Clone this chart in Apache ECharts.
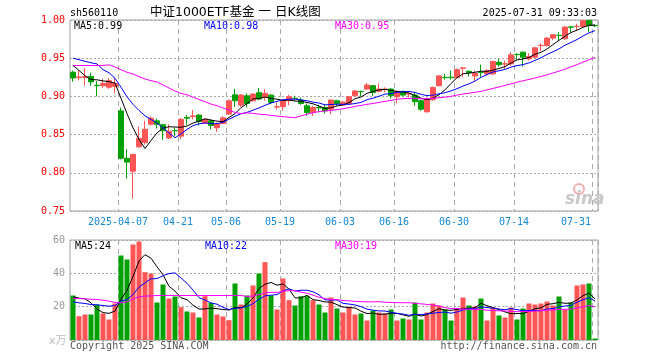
<!DOCTYPE html>
<html><head><meta charset="utf-8">
<script src="https://cdn.jsdelivr.net/npm/echarts@6/dist/echarts.min.js"></script>
<style>html,body{margin:0;padding:0;background:#fff}#c{width:660px;height:360px}</style>
</head><body><div id="c"></div>
<script>
const dates = ['2025-03-25','2025-03-26','2025-03-27','2025-03-28','2025-03-31',
'2025-04-01','2025-04-02','2025-04-03','2025-04-07','2025-04-08','2025-04-09','2025-04-10','2025-04-11',
'2025-04-14','2025-04-15','2025-04-16','2025-04-17','2025-04-18','2025-04-21','2025-04-22','2025-04-23','2025-04-24','2025-04-25',
'2025-04-28','2025-04-29','2025-04-30','2025-05-06','2025-05-07','2025-05-08','2025-05-09',
'2025-05-12','2025-05-13','2025-05-14','2025-05-15','2025-05-16','2025-05-19','2025-05-20','2025-05-21','2025-05-22','2025-05-23',
'2025-05-26','2025-05-27','2025-05-28','2025-05-29','2025-05-30','2025-06-03','2025-06-04','2025-06-05','2025-06-06',
'2025-06-09','2025-06-10','2025-06-11','2025-06-12','2025-06-13','2025-06-16','2025-06-17','2025-06-18','2025-06-19','2025-06-20',
'2025-06-23','2025-06-24','2025-06-25','2025-06-26','2025-06-27','2025-06-30','2025-07-01','2025-07-02','2025-07-03','2025-07-04',
'2025-07-07','2025-07-08','2025-07-09','2025-07-10','2025-07-11','2025-07-14','2025-07-15','2025-07-16','2025-07-17','2025-07-18',
'2025-07-21','2025-07-22','2025-07-23','2025-07-24','2025-07-25','2025-07-28','2025-07-29','2025-07-30','2025-07-31'];

const opens = [0.9316,0.9245,0.925,0.926,0.9145,0.914,0.912,0.913,0.881,0.819,
0.802,0.834,0.8395,0.8636,0.868,0.863,0.8456,0.8555,0.848,0.8725,
0.8735,0.8755,0.865,0.868,0.859,0.8644,0.877,0.902,0.8886,0.9008,
0.8943,0.9048,0.8995,0.9017,0.886,0.8864,0.8943,0.8975,0.8952,0.8877,
0.8789,0.8855,0.8855,0.8833,0.8943,0.8886,0.8908,0.9008,0.9065,0.9096,
0.914,0.9066,0.9092,0.9096,0.8995,0.9066,0.903,0.9017,0.8943,0.8798,
0.8956,0.914,0.925,0.9252,0.9245,0.937,0.9329,0.9267,0.9317,0.9294,
0.9294,0.9447,0.9423,0.9425,0.955,0.9579,0.9491,0.9513,0.9664,0.9666,
0.9763,0.98,0.9754,0.991,0.9914,0.9916,0.9995,0.9929];
const closes = [0.9241,0.9255,0.926,0.919,0.914,0.917,0.9205,0.917,0.819,0.814,
0.824,0.845,0.857,0.8715,0.8636,0.855,0.8545,0.855,0.870,0.8715,
0.8745,0.867,0.870,0.862,0.8644,0.872,0.8943,0.8943,0.9017,0.8907,
0.903,0.8965,0.904,0.8921,0.8865,0.8943,0.8995,0.897,0.8907,0.8789,
0.8855,0.885,0.881,0.8952,0.8908,0.8925,0.8995,0.907,0.9061,0.9149,
0.9052,0.9096,0.9096,0.9008,0.9066,0.9017,0.9035,0.893,0.8833,0.8965,
0.9118,0.9268,0.9245,0.9245,0.935,0.9373,0.9311,0.9302,0.9313,0.9337,
0.9456,0.9416,0.9427,0.9544,0.9546,0.9513,0.9522,0.9636,0.9668,0.9763,
0.9807,0.9796,0.9908,0.9906,0.9918,0.999,0.9929,0.9925];
const lows = [0.9193,0.921,0.914,0.914,0.900,0.911,0.910,0.904,0.8175,0.7925,
0.766,0.833,0.837,0.862,0.858,0.843,0.844,0.848,0.844,0.863,
0.870,0.862,0.8645,0.857,0.8535,0.8637,0.876,0.8865,0.886,0.8855,
0.893,0.895,0.8943,0.890,0.883,0.881,0.8885,0.8943,0.889,0.8745,
0.8745,0.879,0.8776,0.8767,0.8877,0.8877,0.8899,0.8999,0.900,0.9088,
0.9008,0.9052,0.9052,0.8973,0.8908,0.900,0.8986,0.8877,0.8811,0.8789,
0.8943,0.9131,0.9219,0.9219,0.924,0.925,0.9258,0.9206,0.925,0.9272,
0.9285,0.939,0.9359,0.9403,0.9478,0.939,0.9469,0.9504,0.9592,0.9653,
0.9736,0.9723,0.9741,0.9842,0.9864,0.9908,0.9842,0.9908];
const highs = [0.9338,0.934,0.937,0.931,0.920,0.923,0.924,0.924,0.8855,0.831,
0.825,0.8605,0.868,0.8737,0.871,0.864,0.8636,0.859,0.8715,0.8755,
0.882,0.8767,0.871,0.870,0.866,0.874,0.896,0.910,0.903,0.904,
0.904,0.911,0.9096,0.903,0.892,0.895,0.902,0.9008,0.8986,0.8908,
0.8877,0.8886,0.8899,0.896,0.8956,0.8943,0.9008,0.9083,0.9075,0.9175,
0.915,0.917,0.9118,0.911,0.9075,0.9075,0.9052,0.9052,0.8956,0.8986,
0.9127,0.928,0.9294,0.9338,0.9365,0.9375,0.9337,0.9337,0.9416,0.9359,
0.9469,0.9491,0.9469,0.9579,0.9565,0.9587,0.9565,0.9644,0.9697,0.9776,
0.9811,0.9842,0.9916,0.9921,0.9951,1.000,1.000,0.994];
const volumes = [26.7,14.3,15.3,15.3,21.3,15.9,12.3,21.9,50.7,48.3,
57.3,59.1,40.7,39.9,22.5,33.3,24.9,26.1,19.7,17.1,
16.5,13.5,26.3,22.3,15.3,14.1,11.9,33.9,21.3,26.7,
32.7,39.9,46.7,26.7,18.3,36.9,23.9,20.7,26.3,26.3,
23.9,21.3,16.5,25.5,18.9,16.5,19.9,15.3,15.9,11.7,
17.7,16.5,15.9,18.3,11.7,12.9,12.3,22.5,12.3,16.5,
21.9,20.7,18.3,11.7,18.9,25.5,20.7,20.1,24.9,11.7,
19.5,14.7,13.5,19.5,12.3,18.9,21.9,21.3,21.9,23.1,
20.7,26.1,18.3,22.5,32.7,33.3,33.9,0.9];

// moving-average values before a full window exists
const ma5Head = [0.9405,0.934,0.927,0.922];
const ma10Head = [0.950,0.948,0.946,0.944,0.9425,0.935,0.931,0.9237,0.912];
const ma30Head = [0.9404,0.9404,0.9404,0.9404,0.9404,0.9406,0.9413,0.9385,0.935,0.9316,
0.9294,0.9259,0.9228,0.9206,0.919,0.915,0.911,0.907,0.904,0.902,
0.899,0.896,0.893,0.890,0.8877,0.885,0.882,0.879,0.8775];
const vma5Head = [25.9,25.1,24.7,22.3];
const vma10Head = [22.9,22.3,21.9,21.3,21.1,20.7,20.3,20.7,23.3];
const vma30Head = [24.9,24.9,24.7,24.5,24.3,23.9,23.3,22.5,22.3,22.9,
24.7,25.9,26.3,26.5,26.7,26.7,26.7,26.7,26.7,26.7,
26.7,26.7,26.7,26.7,26.7,26.7,26.7,26.7,26.7];

const tickDates = ['2025-04-07','2025-04-21','2025-05-06','2025-05-19','2025-06-03','2025-06-16','2025-06-30','2025-07-14','2025-07-31'];
const priceMaLabels = ['MA5:0.99','MA10:0.98','MA30:0.95'];
const volMaLabels = ['MA5:24','MA10:22','MA30:19'];
const maColors = ['#000000','#0000ff','#ff00ff'];

function movingAvg(src, n, head){
  return src.map((v,i)=>{
    if (i < head.length) return head[i];
    let s=0; for (let k=i-n+1;k<=i;k++) s+=src[k];
    return +(s/n).toFixed(4);
  });
}

const UP='#ff5555', DOWN='#00a000';
const candles = dates.map((d,i)=>[opens[i],closes[i],lows[i],highs[i]]);
const volData = volumes.map((v,i)=>({value:v,itemStyle:{color: closes[i]>=opens[i]?UP:DOWN}}));
const tickSet = new Set(tickDates);
const isTick = (idx)=> tickSet.has(dates[idx]);
const MONO = '"DejaVu Sans Mono", monospace';

function lineSeries(data, color, xi, yi){
  return {type:'line',data,xAxisIndex:xi,yAxisIndex:yi,showSymbol:false,symbol:'none',
    lineStyle:{width:1,color},itemStyle:{color},silent:true,z:5};
}

const xBase = (gi, showLabels)=>({
  type:'category', data:dates, gridIndex:gi, boundaryGap:true,
  axisLine:{show:false}, axisTick:{show:false},
  axisLabel: showLabels ? {
    show:true, interval:(i)=>isTick(i), color:'#1589d6', fontFamily:MONO, fontSize:10, margin:6,
    formatter:(v,i)=>{
      const t = (v===tickDates[0]) ? v : v.slice(5);
      return (v===tickDates[tickDates.length-1]) ? '{l|'+t+'}' : '{n|'+t+'}';
    },
    rich:{ n:{padding:[0,6,0,0],color:'#1589d6',fontFamily:MONO,fontSize:10},
           l:{padding:[0,38,0,0],color:'#1589d6',fontFamily:MONO,fontSize:10} }
  } : {show:false},
  splitLine:{show:true, interval:(i)=>isTick(i), lineStyle:{color:'#aaaaaa',type:[5,4],width:1}}
});

const chart = echarts.init(document.getElementById('c'), null, {renderer:'canvas'});
const txt = (text,x,y,fill,align,size,family)=>({type:'text',silent:true,z:100,
  style:{text,x,y,fill,font:(size||10)+'px '+(family||MONO),fontSize:size||10,fontFamily:family||MONO,
    textAlign:align||'left',align:align||'left',textVerticalAlign:'middle',verticalAlign:'middle'}});

chart.setOption({
  animation:false,
  backgroundColor:'#ffffff',
  grid:[
    {left:70, top:20, width:528, height:191, show:true, borderColor:'#a0a0a0', borderWidth:1, backgroundColor:'transparent'},
    {left:70, top:240, width:528, height:100, show:true, borderColor:'#a0a0a0', borderWidth:1, backgroundColor:'transparent'}
  ],
  xAxis:[ xBase(0,true), xBase(1,false) ],
  yAxis:[
    {type:'value', gridIndex:0, min:0.75, max:1.0, interval:0.05, scale:true,
     axisLine:{show:false}, axisTick:{show:false},
     axisLabel:{color:'#ff0000', fontFamily:MONO, fontSize:10, margin:5, formatter:(v)=>v.toFixed(2)},
     splitLine:{show:true, lineStyle:{color:'#aaaaaa', type:[2,2], width:1}}},
    {type:'value', gridIndex:1, min:0, max:60, interval:20,
     axisLine:{show:false}, axisTick:{show:false},
     axisLabel:{color:'#999999', fontFamily:MONO, fontSize:10, margin:5, formatter:(v)=> v===0?'':String(v)},
     splitLine:{show:true, lineStyle:{color:'#aaaaaa', type:[2,2], width:1}}}
  ],
  series:[
    {type:'candlestick', data:candles, xAxisIndex:0, yAxisIndex:0, barWidth:5, z:3,
     itemStyle:{color:UP, color0:DOWN, borderColor:UP, borderColor0:DOWN, borderWidth:1}},
    lineSeries(movingAvg(closes,5,ma5Head), maColors[0],0,0),
    lineSeries(movingAvg(closes,10,ma10Head), maColors[1],0,0),
    lineSeries(movingAvg(closes,30,ma30Head), maColors[2],0,0),
    {type:'bar', data:volData, xAxisIndex:1, yAxisIndex:1, barWidth:5, z:3},
    lineSeries(movingAvg(volumes,5,vma5Head), maColors[0],1,1),
    lineSeries(movingAvg(volumes,10,vma10Head), maColors[1],1,1),
    lineSeries(movingAvg(volumes,30,vma30Head), maColors[2],1,1)
  ],
  graphic:[
    txt('sh560110',70,13,'#000000'),
    txt('中证1000ETF基金 一 日K线图',150,13,'#000000','left',12.5,'"DejaVu Sans", "Noto Sans CJK SC", sans-serif'),
    txt('2025-07-31 09:33:03',597,13,'#000000','right'),
    txt(priceMaLabels[0],74,26,maColors[0]),
    txt(priceMaLabels[1],204,26,maColors[1]),
    txt(priceMaLabels[2],335,26,maColors[2]),
    txt(volMaLabels[0],75,246,maColors[0]),
    txt(volMaLabels[1],205,246,maColors[1]),
    txt(volMaLabels[2],335,246,maColors[2]),
    txt('x万',49,341,'#bbbbbb','left',11,'"DejaVu Sans", "Noto Sans CJK SC", sans-serif'),
    txt('Copyright 2025 SINA.COM',70,346,'#555555'),
    txt('http://finance.sina.com.cn',597,346,'#555555','right'),
    {type:'circle',silent:true,z:90,shape:{cx:579,cy:189,r:5},style:{fill:'none',stroke:'#f4b0b0',lineWidth:2}},
    {type:'text',silent:true,z:90,style:{text:'sina',x:565,y:200,fill:'#c8c8c8',
      font:'italic bold 17px "DejaVu Sans", sans-serif',fontStyle:'italic',fontWeight:'bold',fontSize:17,
      fontFamily:'"DejaVu Sans", sans-serif',textVerticalAlign:'middle',verticalAlign:'middle'}}
  ]
});
</script></body></html>
